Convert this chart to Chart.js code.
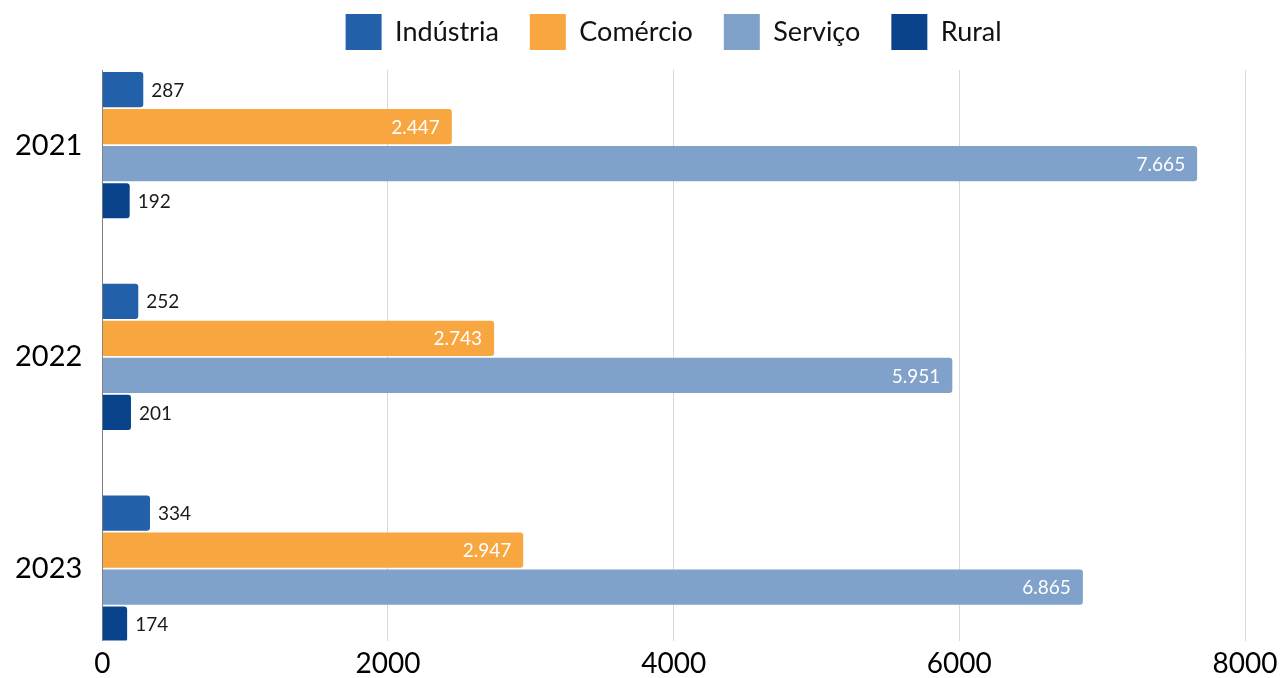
<!DOCTYPE html>
<html lang="pt-BR">
<head>
<meta charset="utf-8">
<script src="https://cdn.jsdelivr.net/npm/chart.js@4/dist/chart.umd.min.js"></script>
<style>
  html, body { margin: 0; padding: 0; background: #fff; }
  #wrap { width: 1280px; height: 678px; }
</style>
</head>
<body>
<div id="wrap"><canvas id="grafico"></canvas></div>
<script>
const anos = ['2021', '2022', '2023'];
const industria = [287, 252, 334];
const comercio = [2447, 2743, 2947];
const servico = [7665, 5951, 6865];
const rural = [192, 201, 174];
const ticksX = [0, 2000, 4000, 6000, 8000];

const fonte = 'Lato, "DejaVu Sans", sans-serif';

function formatar(v) {
    return String(v).replace(/\B(?=(\d{3})+(?!\d))/g, '.');
}

function serie(nome, valores, cor) {
    return {
        label: nome,
        data: valores.map((v, i) => ({ x: v, y: i })),
        backgroundColor: cor,
        borderWidth: 0,
        borderRadius: 3,
        categoryPercentage: 0.7,
        barPercentage: 0.95
    };
}

// rótulos de valor: dentro da barra (branco) se couber, senão depois dela
const rotulos = {
    id: 'rotulos',
    afterDatasetsDraw(chart) {
        const ctx = chart.ctx;
        ctx.save();
        ctx.font = '19px ' + fonte;
        ctx.textBaseline = 'middle';
        chart.data.datasets.forEach((ds, di) => {
            const meta = chart.getDatasetMeta(di);
            meta.data.forEach((bar, i) => {
                const v = ds.data[i].x;
                const txt = formatar(v);
                if (v > 1000) {
                    ctx.fillStyle = '#ffffff';
                    ctx.textAlign = 'right';
                    ctx.fillText(txt, bar.x - 12, bar.y + 1);
                } else {
                    ctx.fillStyle = '#1a1a1a';
                    ctx.textAlign = 'left';
                    ctx.fillText(txt, bar.x + 8, bar.y + 1);
                }
            });
        });
        ctx.restore();
    }
};

new Chart(document.getElementById('grafico'), {
    type: 'bar',
    data: {
        datasets: [
            serie('Indústria', industria, '#2261AA'),
            serie('Comércio', comercio, '#F8A640'),
            serie('Serviço', servico, '#80A1C9'),
            serie('Rural', rural, '#08438C')
        ]
    },
    options: {
        indexAxis: 'y',
        responsive: true,
        maintainAspectRatio: false,
        animation: false,
        layout: { padding: { left: -5, right: 0, top: -17, bottom: -9 } },
        plugins: {
            legend: {
                position: 'top',
                weight: 3000,
                fullSize: false,
                labels: {
                    boxWidth: 36,
                    boxHeight: 36,
                    padding: 31,
                    color: '#111',
                    font: { family: fonte, size: 27 }
                }
            },
            // espaço vazio entre a legenda e o gráfico
            title: {
                display: true,
                text: ' ',
                padding: 0,
                font: { size: 10, lineHeight: 1 }
            },
            tooltip: { enabled: false }
        },
        scales: {
            x: {
                min: 0,
                max: 8000,
                afterBuildTicks(scale) {
                    scale.ticks = ticksX.map(v => ({ value: v }));
                },
                afterFit(scale) {
                    scale.paddingRight = 35;
                },
                grid: { color: '#D9D9D9', drawTicks: false },
                border: { display: false },
                ticks: {
                    color: '#000',
                    padding: 9,
                    font: { family: fonte, size: 28, lineHeight: 1 },
                    callback: v => String(v)
                }
            },
            y: {
                type: 'linear',
                reverse: true,
                offset: false,
                bounds: 'data',
                min: -0.355,
                max: 2.34,
                afterBuildTicks(scale) {
                    scale.ticks = anos.map((a, i) => ({ value: i }));
                },
                grid: { display: false, drawTicks: false, offset: false },
                border: { display: true, color: '#7f7f7f', width: 1 },
                ticks: {
                    color: '#000',
                    padding: 20,
                    font: { family: fonte, size: 29 },
                    callback: v => anos[v]
                }
            }
        }
    },
    plugins: [rotulos]
});
</script>
</body>
</html>
